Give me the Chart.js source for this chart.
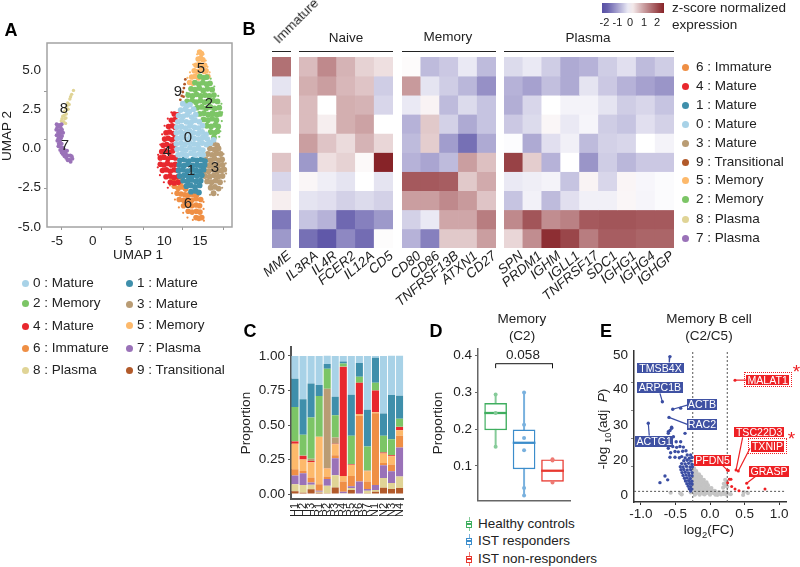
<!DOCTYPE html>
<html>
<head>
<meta charset="utf-8">
<title>B cell panels</title>
<script src="https://cdn.jsdelivr.net/npm/chart.js@4"></script>
<style>
  html, body { margin: 0; padding: 0; background: #fff; }
  #page { position: relative; width: 800px; height: 567px; overflow: hidden; font-family: "Liberation Sans", Arial, sans-serif; color: #222; }
  #page canvas { position: absolute; }
  .txt { position: absolute; white-space: nowrap; line-height: 1; }
  .dot { position: absolute; width: 7px; height: 7px; border-radius: 50%; }
  .tag { position: absolute; color: #fff; font-size: 10.6px; line-height: 1; display: flex; align-items: center; justify-content: center; white-space: nowrap; }
  sub { font-size: 70%; line-height: 0; }
</style>
</head>
<body>
<div id="page"></div>
<script>
// =======================
// data: panel A (UMAP)
// =======================
const clusterNames = ['0 : Mature', '1 : Mature', '2 : Memory', '3 : Mature', '4 : Mature', '5 : Memory', '6 : Immature', '7 : Plasma', '8 : Plasma', '9 : Transitional'];
const clusterColors = ['#a8d2e7', '#3f8fab', '#7cc566', '#b99c74', '#e8282e', '#fdb96b', '#ef8f45', '#9a72b8', '#e0d496', '#b25a2a'];

const umap0 = [[12.6,2.85],[13.15,2.7],[13.6,2.8],[12.3,2.45],[12.95,2.5],[13.5,2.35],[14.1,2.5],[12.0,2.1],[12.65,2.05],[13.2,2.15],[13.85,2.0],[14.4,2.15],[11.9,1.7],[12.45,1.8],[13.1,1.7],[13.75,1.65],[14.3,1.8],[14.9,1.7],[11.75,1.35],[12.4,1.4],[13.0,1.3],[13.6,1.45],[14.25,1.35],[14.8,1.3],[15.35,1.45],[11.7,1.0],[12.3,1.05],[12.9,0.95],[13.55,1.1],[14.1,1.0],[14.75,0.95],[15.3,1.05],[15.85,0.9],[11.8,0.65],[12.4,0.7],[13.05,0.6],[13.65,0.75],[14.2,0.65],[14.85,0.6],[15.4,0.7],[16.05,0.6],[11.7,0.3],[12.35,0.35],[12.9,0.25],[13.5,0.4],[14.15,0.3],[14.7,0.25],[15.3,0.35],[15.9,0.25],[16.45,0.35],[11.8,-0.05],[12.45,0],[13.0,-0.1],[13.6,0.05],[14.25,-0.05],[14.85,0],[15.4,-0.1],[11.95,-0.4],[12.5,-0.35],[13.1,-0.45],[13.75,-0.3],[14.3,-0.4],[14.9,-0.35],[15.45,-0.4],[16.9,0.55]];
const umap1 = [[12.2,-0.75],[12.8,-0.7],[13.45,-0.8],[14.05,-0.7],[14.6,-0.75],[15.2,-0.7],[15.7,-0.8],[12.1,-1.05],[12.75,-1.1],[13.3,-1.0],[13.95,-1.1],[14.55,-1.05],[15.1,-1.1],[15.65,-1.05],[12.0,-1.4],[12.6,-1.35],[13.25,-1.45],[13.85,-1.35],[14.45,-1.4],[15.0,-1.45],[15.5,-1.35],[12.15,-1.75],[12.8,-1.7],[13.4,-1.8],[14.0,-1.7],[14.6,-1.75],[15.25,-1.7],[12.65,-2.05],[13.25,-2.1],[13.85,-2.0],[14.45,-2.1],[15.1,-2.05],[13.1,-2.4],[13.7,-2.35],[14.3,-2.45],[14.95,-2.35],[13.75,-2.75],[14.4,-2.7],[14.85,-2.8]];
const umap2 = [[15.0,4.6],[15.5,4.5],[15.95,4.55],[14.3,4.2],[14.85,4.1],[15.4,4.2],[15.95,4.1],[16.4,4.15],[13.75,3.8],[14.3,3.75],[14.9,3.85],[15.45,3.7],[16.05,3.8],[16.7,3.75],[13.35,3.4],[13.95,3.35],[14.5,3.45],[15.1,3.35],[15.7,3.4],[16.3,3.35],[16.95,3.4],[13.2,3.0],[13.9,3.05],[14.45,2.95],[15.05,3.05],[15.65,2.95],[16.25,3.0],[16.85,3.05],[17.45,3.0],[14.6,2.6],[15.25,2.65],[15.85,2.55],[16.45,2.65],[17.05,2.55],[17.7,2.6],[14.95,2.2],[15.55,2.25],[16.15,2.15],[16.75,2.25],[17.35,2.15],[17.8,2.2],[15.5,1.85],[16.1,1.8],[16.7,1.9],[17.3,1.8],[15.95,1.45],[16.55,1.4],[17.15,1.5],[17.55,1.4],[16.5,1.05],[17.05,1.0],[17.45,1.1],[16.95,0.7]];
const umap3 = [[16.9,0.35],[17.4,0.2],[16.4,0.0],[17.0,-0.05],[17.6,0.0],[16.1,-0.35],[16.7,-0.4],[17.3,-0.3],[17.9,-0.35],[15.8,-0.7],[16.45,-0.75],[17.05,-0.65],[17.65,-0.75],[18.1,-0.7],[15.75,-1.05],[16.3,-1.1],[16.9,-1.0],[17.5,-1.1],[18.15,-1.05],[15.6,-1.4],[16.2,-1.45],[16.85,-1.35],[17.45,-1.45],[18.0,-1.4],[18.4,-1.35],[15.7,-1.75],[16.35,-1.8],[16.95,-1.7],[17.55,-1.8],[18.15,-1.75],[16.0,-2.1],[16.6,-2.15],[17.2,-2.05],[17.8,-2.15],[16.5,-2.5],[17.1,-2.45],[17.6,-2.55],[16.9,-2.85]];
const umap4 = [[11.4,2.2],[11.85,2.15],[11.0,1.8],[11.5,1.85],[10.6,1.4],[11.1,1.45],[11.5,1.35],[10.25,1.0],[10.75,1.05],[11.3,0.95],[10.05,0.6],[10.55,0.65],[11.05,0.55],[11.5,0.65],[9.85,0.2],[10.35,0.25],[10.9,0.15],[11.4,0.2],[9.65,-0.2],[10.15,-0.15],[10.7,-0.25],[11.2,-0.15],[9.45,-0.6],[9.95,-0.55],[10.5,-0.65],[11.05,-0.55],[11.55,-0.6],[9.45,-1.0],[9.95,-1.05],[10.45,-0.95],[11.0,-1.05],[11.55,-1.0],[9.75,-1.4],[10.3,-1.35],[10.85,-1.45],[11.4,-1.35],[11.85,-1.4],[10.25,-1.8],[10.8,-1.75],[11.35,-1.85],[11.9,-1.8],[10.85,-2.15],[11.4,-2.2],[11.95,-2.15]];
const umap5 = [[14.95,6.15],[15.2,6.05],[14.75,5.7],[15.1,5.75],[15.4,5.65],[14.45,5.3],[14.9,5.35],[15.3,5.25],[15.65,5.3],[14.2,4.95],[14.65,4.9],[15.15,5.0],[15.6,4.9],[15.85,4.95],[13.85,4.55],[14.35,4.6],[14.8,4.5],[16.1,4.6],[13.55,4.2],[14.0,4.15]];
const umap6 = [[11.1,-2.0],[11.6,-2.05],[12.2,-2.25],[12.5,-2.0],[11.4,-2.4],[11.95,-2.55],[12.55,-2.45],[13.0,-2.6],[11.8,-2.85],[12.35,-2.9],[12.9,-2.95],[13.45,-2.95],[14.05,-2.95],[14.55,-2.95],[12.1,-3.25],[12.7,-3.3],[13.25,-3.25],[13.85,-3.3],[14.45,-3.2],[15.1,-3.25],[12.7,-3.65],[13.3,-3.6],[13.85,-3.65],[14.45,-3.6],[14.95,-3.65],[13.35,-4.0],[13.9,-4.05],[14.5,-4.0],[15.0,-4.05],[14.45,-4.4],[14.85,-4.45],[15.25,-4.4]];
const umap7 = [[-5.05,1.55],[-4.7,1.5],[-4.35,1.55],[-5.1,1.2],[-4.7,1.15],[-4.3,1.2],[-5.05,0.85],[-4.65,0.85],[-4.3,0.8],[-4.95,0.5],[-4.6,0.45],[-4.8,0.15],[-4.45,0.1],[-4.55,-0.1],[-4.15,-0.15],[-4.2,-0.35],[-3.8,-0.3],[-3.5,-0.45],[-3.15,-0.45],[-3.7,-0.6],[-3.3,-0.7],[-2.95,-0.5],[-4.95,1.35],[-4.5,1.35],[-4.85,1.0],[-4.5,1.0],[-4.15,1.0],[-4.8,0.65],[-4.45,0.65],[-4.75,0.3],[-4.35,0.3],[-4.2,0.05],[-4.35,-0.25],[-3.95,-0.1],[-3.6,-0.15],[-3.95,-0.5],[-3.5,-0.75],[-3.1,-0.85],[-2.85,-0.65]];
const umap8 = [[-2.7,3.7],[-2.95,3.45],[-3.2,3.15],[-3.5,2.9],[-3.3,2.8],[-3.75,2.55],[-3.95,2.35],[-3.7,2.2],[-4.2,2.05],[-3.9,1.9],[-4.4,1.75],[-4.05,1.7],[-4.6,1.45],[-3.1,3.3],[-3.6,2.7],[-3.45,2.5],[-4.0,2.1],[-3.75,1.95],[-4.3,1.9],[-3.8,1.6]];
const umap9 = [[12.95,4.4],[12.85,4.1],[12.75,3.85],[12.6,3.6],[12.45,3.35],[12.25,3.1],[12.7,3.3]];
const umapSets = [umap0, umap1, umap2, umap3, umap4, umap5, umap6, umap7, umap8, umap9];
const umapNumbers = ['0', '1', '2', '3', '4', '5', '6', '7', '8', '9'];
// loose cells round the outer edge of the big group, drawn smaller
const stray2 = [[13.15,3.55],[14.1,4.55],[14.65,4.45],[16.5,4.45],[17.0,3.95],[17.55,3.35],[18.0,2.85],[18.1,2.3],[18.05,1.75],[17.85,1.1],[17.7,0.75]];
const stray3 = [[18.6,-0.95],[18.65,-1.6],[18.45,-2.1],[18.1,-2.5],[17.5,-2.95],[16.4,-2.95],[18.3,-0.35]];
const stray4 = [[9.15,-0.4],[9.1,-1.2],[9.45,0.25],[9.7,0.9],[10.05,1.45],[10.5,1.9],[11.0,2.3],[9.4,-1.7],[9.95,-2.15],[10.5,-2.5]];
const stray5 = [[14.6,6.0],[15.5,6.0],[15.8,5.6],[16.05,5.2],[16.35,4.85],[14.05,5.35],[13.6,4.85],[13.25,4.5]];
const stray6 = [[10.8,-2.35],[11.1,-2.85],[11.5,-3.25],[12.05,-3.75],[12.65,-4.1],[13.25,-4.4],[14.0,-4.55],[15.55,-4.6],[15.5,-3.85],[15.5,-3.4]];
const straySets = [[], [], stray2, stray3, stray4, stray5, stray6, [], [], []];

// =======================
// data: panel B (z scores per gene, rows top to bottom)
// =======================
const immatureGenes = ['MME'];
const naiveGenes = ['IL3RA', 'IL4R', 'FCER2', 'IL12A', 'CD5'];
const memoryGenes = ['CD80', 'CD86', 'TNFRSF13B', 'ATXN1', 'CD27'];
const plasmaGenes = ['SPN', 'PRDM1', 'IGHM', 'IGLL1', 'TNFRSF17', 'SDC1', 'IGHG1', 'IGHG4', 'IGHGP'];

const immatureZ = [[1.6, -0.25, 0.7, 0.6, 0, 0.6, -0.4, 0.15, -1.5, -1.1]];
const naiveZ = [
  [0.7, 0.85, 0.7, 0.7, 1.05, -1.1, 0.07, -0.25, -0.6, -1.6],
  [1.3, 1.05, 0, 0.15, 0.6, 0.3, -0.15, -0.3, -0.8, -1.9],
  [0.8, 0.75, 0.85, 0.85, 0.35, 0.45, -0.25, -0.45, -1.7, -1.3],
  [0.45, 0.6, 0.8, 1.0, 0.8, 0.05, 0, -0.35, -1.4, -1.65],
  [0.3, -0.5, -0.4, 0, 0.4, 2.6, -0.25, -0.45, -1.1, 0.02]
];
const memoryZ = [
  [0.03, 1.1, -0.2, -0.8, -0.7, -0.8, 1.9, 1.05, -0.45, -0.8],
  [-0.7, -0.25, 0.1, 0.55, 0.5, -0.95, 1.9, 1.05, -0.2, -1.4],
  [-0.55, -0.5, -0.7, -0.45, -1.05, -0.7, 1.85, 1.3, 0.95, 0.55],
  [-0.2, -0.75, -0.35, -0.9, -1.6, 1.05, 0.55, 1.1, 0.95, 0.55],
  [-0.7, -1.2, -0.6, -0.6, -0.9, 0.65, 0.9, 0.6, 1.45, 1.05]
];
const plasmaZ = [
  [-0.35, -0.8, -0.85, -0.55, -0.02, 2.2, -0.2, -0.6, 1.3, 0.4],
  [-0.2, -1.0, -0.4, -0.35, -0.9, 0.5, -0.15, -0.12, 1.95, 1.25],
  [-0.5, -0.65, 0, 0.07, -0.3, -0.8, -0.1, -0.7, 1.25, 2.45],
  [-0.9, -0.9, -0.1, -0.2, -0.13, 0, -0.6, -0.3, 1.4, 2.15],
  [-0.8, -0.25, -0.1, -0.08, -0.7, -1.15, 0.1, -0.13, 1.9, 1.45],
  [-0.5, -0.55, -0.25, -0.5, -0.45, -0.5, -0.4, -0.13, 1.95, 1.85],
  [-0.3, -0.8, -0.5, -0.6, -0.4, -0.75, 0.08, 0.07, 1.95, 1.85],
  [-0.7, -1.0, -0.4, -0.3, 0, -0.55, -0.07, -0.08, 1.9, 1.75],
  [-0.5, -1.15, -0.6, -0.45, -0.1, -0.55, -0.03, -0.03, 1.9, 1.75]
];
const heatLegendOrder = [6, 4, 1, 0, 3, 9, 5, 2, 8, 7];
const colorbarTicks = [-2, -1, 0, 1, 2];

// =======================
// data: panel C (proportion of each cluster per sample)
// =======================
const samples = ['H1', 'H2', 'H3', 'R1', 'R2', 'R3', 'R4', 'R5', 'R6', 'R7', 'N1', 'N2', 'N3', 'N4'];
const prop9 = [.02, .01, .035, .01, .005, .048, 0, .03, 0, .005, .017, .045, .036, .043];
const prop8 = [.05, .055, .032, .007, .055, .088, .005, .013, 0, .019, .012, .072, .043, .084];
const prop7 = [.065, .085, .016, .007, .048, .124, .012, .014, .09, .012, .036, .091, .086, .21];
const prop6 = [.045, .017, .037, .046, .019, .02, .073, .073, .477, .054, .521, .017, .048, .086];
const prop5 = [.185, .083, .11, .345, .058, .08, .04, .08, .013, .075, .007, .069, .06, .039];
const prop4 = [.015, .025, .01, 0, .002, .004, .79, .003, .226, .002, .157, .006, .007, .024];
const prop3 = [.005, .005, .015, 0, .575, .046, .003, .004, 0, .003, 0, 0, .002, .002];
const prop2 = [.245, .15, .30, .295, .145, .16, .022, .206, .044, .175, .056, .123, .115, .057];
const prop1 = [.205, .257, .245, .08, .035, .135, .015, .297, .1, .265, .182, .161, .32, .167];
const prop0 = [.165, .313, .20, .21, .06, .295, .04, .28, .05, .39, .012, .416, .285, .29];
const propSets = [prop9, prop8, prop7, prop6, prop5, prop4, prop3, prop2, prop1, prop0];
const propColorOrder = [9, 8, 7, 6, 5, 4, 3, 2, 1, 0];

// =======================
// data: panel D (box plot)
// =======================
const boxGroups = ['Healthy controls', 'IST responders', 'IST non-responders'];
const boxColors = ['#3fae5f', '#3c8dcb', '#e8382f'];
const boxSoft = ['#86cb99', '#79b1de', '#ee7a73'];
const boxQ1 = [.198, .092, .058];
const boxQ3 = [.27, .198, .117];
const boxMedian = [.244, .163, .087];
const whiskerLow = [.152, .02, .055];
const whiskerHigh = [.294, .303, .12];
const boxPoints = [[.294, .244, .152], [.3, .212, .176, .143, .04, .02], [.118, .115, .055]];
const bracket = [{x: 1, y: .366}, {x: 1, y: .378}, {x: 3, y: .378}, {x: 3, y: .366}];

// =======================
// data: panel E (volcano)
// =======================
const volcanoBlue = [[-.58,49.4],[-.69,33.3],[-.54,30.6],[-.594,27.7],[-.894,25.6],[-.425,31],[-.555,23.8],[-.604,22.6],[-.362,22],[-.58,23],[-.604,22],[-.556,24.2],[-.652,6.8],[-.613,5.4],[-.725,4.4],[-.54,17.3],[-.483,17],[-.435,17.3],[-.386,17.1],[-.604,16.7],[-.57,15.1],[-.507,15.5],[-.459,15.4],[-.396,15.6],[-.348,15.8],[-.58,13.5],[-.507,13.5],[-.444,13.3],[-.41,13.7],[-.33,14.3],[-.28,14.3],[-.53,20.8],[-.49,19],[-.425,19],
  [-.36,13.2],[-.3,13.1],[-.26,13.4],[-.38,12.2],[-.33,12.4],[-.28,12.1],[-.41,11.2],[-.36,11.1],[-.31,11.3],[-.26,11],[-.43,10.1],[-.39,10],[-.34,10.2],[-.29,10],[-.255,10.1],[-.42,9],[-.38,9.1],[-.33,8.9],[-.28,9],[-.405,8],[-.36,8.1],[-.31,7.9],[-.26,8],[-.39,7],[-.345,7.1],[-.3,7],[-.26,6.9],[-.37,6],[-.33,6.1],[-.285,5.9],[-.355,5],[-.31,5.1],[-.265,4.9],[-.335,4],[-.295,4.1],[-.26,3.9],[-.315,3.1],[-.28,3],[-.3,2.2],[-.265,2.1],[-.28,1.4]];
const volcanoGray = [[-.23,9.5],[-.24,8.5],[-.2,8.5],[-.235,7.5],[-.19,7.5],[-.16,7.4],[-.24,6.5],[-.2,6.6],[-.16,6.4],[-.13,6.5],[-.235,5.5],[-.19,5.6],[-.15,5.4],[-.12,5.5],[-.09,5.4],[-.24,4.5],[-.2,4.6],[-.16,4.4],[-.12,4.5],[-.08,4.4],[-.05,4.5],[-.23,3.5],[-.19,3.6],[-.15,3.4],[-.11,3.5],[-.07,3.4],[-.03,3.5],[-.24,2.5],[-.2,2.6],[-.16,2.4],[-.12,2.5],[-.08,2.4],[-.04,2.5],[-.01,2.4],[.02,2.5],[-.23,1.6],[-.18,1.7],[-.13,1.5],[-.09,1.6],[-.05,1.5],[-.01,1.7],[.03,1.6],[.07,1.5],
  [-.57,.8],[-.43,.6],[-.41,.2],[-.28,.9],[-.2,.6],[-.15,.8],[-.1,.5],[-.05,.7],[0,.5],[.05,.7],[.1,.5],[.15,.6],[.2,.4],[.25,.6],[.3,.3],[-.15,.1],[-.08,.2],[0,.1],[.08,.1],[.16,.2],[.22,5.4],[.24,4.4],[.2,4],[.23,3.3],[.25,3],[.19,2.6],[.48,0],[.55,.7],[.49,1],[-.22,.1],[-.02,1.1],[.06,1.05],[.13,1],[.2,1],[.11,.05],[.24,.1],[-.18,1.1],[-.12,1.05],[-.06,1.1]];
const volcanoRed = [[.362,41],[.377,8.9],[.41,8.6],[.251,8.9],[.531,4.2],[.266,8.7],[.304,5.6],[.314,3],[.362,2.1],[.42,1.5],[.556,2.6],[.797,2.1],[.256,4.4],[.28,5.6]];
// connector lines from a point to its label, both ends in data units
const blueLinks = [[[-.58,49.4],[-.59,47.3]], [[-.69,33.3],[-.725,36.3]], [[-.54,30.6],[-.329,32.1]], [[-.594,27.7],[-.329,25.2]], [[-.894,25.6],[-.88,21.2]]];
const redLinks = [[[.362,41],[.522,41]], [[.377,8.9],[.473,20.6]], [[.41,8.6],[.58,16.7]], [[.251,8.9],[.184,10.5]], [[.531,4.2],[.667,6.8]]];
const blueTags = ['TMSB4X', 'ARPC1B', 'ACTB', 'RAC2', 'ACTG1'];
const redTags = ['MALAT1', 'TSC22D3', 'TXNIP', 'PFDN5', 'GRASP'];

// =======================
// helpers
// =======================
Chart.defaults.font.family = '"Liberation Sans", Arial, sans-serif';
Chart.defaults.font.size = 13.5;
Chart.defaults.color = '#222';
Chart.defaults.animation = false;
Chart.defaults.plugins.legend.display = false;
Chart.defaults.plugins.tooltip.enabled = false;

const page = document.getElementById('page');

// fixes the plot area at l,t,r,b on the page; ml/mr/mt/mb are the margins round it
function makeChart(box, config) {
  const c = document.createElement('canvas');
  const ml = box.ml || 0, mr = box.mr || 0, mt = box.mt || 0, mb = box.mb || 0;
  c.width = box.r - box.l + ml + mr;
  c.height = box.b - box.t + mt + mb;
  c.style.left = (box.l - ml) + 'px';
  c.style.top = (box.t - mt) + 'px';
  page.appendChild(c);
  const o = config.options;
  o.responsive = false;
  o.devicePixelRatio = 1;
  o.layout = {padding: {top: mt, right: mr, left: box.padLeft ? ml : 0, bottom: 0}};
  Object.values(o.scales).forEach(s => {
    if (s.display === false) return;
    s.afterFit = sc => {
      if (sc.isHorizontal()) sc.height = mb; else sc.width = ml;
    };
  });
  return new Chart(c, config);
}

function text(html, x, y, opt) {
  opt = opt || {};
  const d = document.createElement('div');
  d.className = 'txt';
  d.innerHTML = html;
  d.style.left = x + 'px';
  d.style.top = y + 'px';
  d.style.fontSize = (opt.size || 13.5) + 'px';
  if (opt.weight) d.style.fontWeight = opt.weight;
  if (opt.color) d.style.color = opt.color;
  const shift = opt.left ? 'translate(0,-50%)' : 'translate(-50%,-50%)';
  d.style.transform = shift + (opt.rotate ? ' rotate(' + opt.rotate + 'deg)' : '');
  page.appendChild(d);
}

function dot(color, x, y) {
  const d = document.createElement('div');
  d.className = 'dot';
  d.style.background = color;
  d.style.left = (x - 3.5) + 'px';
  d.style.top = (y - 3.5) + 'px';
  page.appendChild(d);
}

function rect(x, y, w, h, css) {
  const d = document.createElement('div');
  d.style.position = 'absolute';
  d.style.left = x + 'px';
  d.style.top = y + 'px';
  d.style.width = w + 'px';
  d.style.height = h + 'px';
  d.style.boxSizing = 'border-box';
  Object.assign(d.style, css);
  page.appendChild(d);
  return d;
}

// axis whose labels stand where the picture has them, marks elsewhere stay unlabelled
function placedAxis(places, labels, marks, markColor) {
  const all = places.concat(marks);
  return {
    afterBuildTicks: sc => { sc.ticks = all.map(v => ({value: v})); },
    ticks: {
      autoSkip: false,
      maxRotation: 0,
      callback: v => {
        const i = places.indexOf(v);
        return i < 0 ? '' : labels[i];
      }
    },
    grid: {
      drawOnChartArea: false,
      tickLength: 3,
      tickColor: ctx => (ctx.tick && places.indexOf(ctx.tick.value) < 0) ? markColor : 'rgba(0,0,0,0)'
    }
  };
}

function pts(list) {
  return list.map(p => ({x: p[0], y: p[1]}));
}

// =======================
// A: UMAP
// =======================
const framePlugin = {
  id: 'frame',
  afterDatasetsDraw(chart) {
    const a = chart.chartArea, g = chart.ctx;
    g.save();
    g.strokeStyle = '#a3a3a3';
    g.lineWidth = 1.5;
    g.strokeRect(a.left, a.top, a.width, a.height);
    g.restore();
  }
};

const umapRadius = [2.9, 2.9, 2.9, 2.9, 2.8, 2.8, 2.8, 2.0, 1.7, 1.4];
const umapDatasets = umapSets.map((set, i) => ({
  data: pts(set),
  backgroundColor: clusterColors[i],
  borderWidth: 0,
  pointRadius: umapRadius[i]
}));
straySets.forEach((set, i) => {
  umapDatasets.push({data: pts(set), backgroundColor: clusterColors[i], borderWidth: 0, pointRadius: 1.1});
});

makeChart({l: 47, t: 43, r: 232, b: 227, ml: 47, mb: 22, mt: 14, mr: 6}, {
  type: 'scatter',
  data: {datasets: umapDatasets},
  options: {
    scales: {
      x: Object.assign({type: 'linear', min: -6.4, max: 19.48, border: {display: false}},
        placedAxis([-5, 0, 5, 10, 15], ['-5', '0', '5', '10', '15'], [-4.44, 1.29, 7.03, 12.62, 18.36], '#999')),
      y: Object.assign({type: 'linear', min: -5, max: 6.72, border: {display: false}},
        placedAxis([-5, -2.5, 0, 2.5, 5], ['-5.0', '-2.5', '0.0', '2.5', '5.0'], [-2.52, 0.6, 3.66], '#999'))
    }
  },
  plugins: [framePlugin]
});

text('UMAP 1', 138, 255);
text('UMAP 2', 7, 136, {rotate: -90});

const umapLabelPos = [[188, 136], [191, 169], [209, 102], [215, 166], [167, 150], [201, 67], [188, 202], [65, 144], [64, 107], [178, 90]];
umapLabelPos.forEach((p, i) => text(umapNumbers[i], p[0], p[1], {size: 15}));

const legendColA = [[25.7, 33], [129.5, 137]];
const legendRowsA = [[283, 303, 326, 348, 370], [283, 304, 325, 348, 370]];
clusterNames.forEach((name, i) => {
  const col = i % 2, row = Math.floor(i / 2);
  dot(clusterColors[i], legendColA[col][0], legendRowsA[col][row]);
  text(name, legendColA[col][1], legendRowsA[col][row], {left: true});
});

// =======================
// B: heatmap, one stacked bar per gene
// =======================
function zColor(z) {
  const neg = [88, 80, 165], pos = [135, 35, 40];
  const t = Math.min(Math.abs(z) / (z < 0 ? 2.0 : 2.6), 1);
  const end = z < 0 ? neg : pos;
  const ch = end.map(e => Math.round(255 + (e - 255) * Math.pow(t, 0.9)));
  return 'rgb(' + ch.join(',') + ')';
}

function heatBlock(genes, matrix, l, r) {
  const rows = matrix[0].map((_, row) => ({
    data: genes.map(() => 1),
    backgroundColor: matrix.map(col => zColor(col[row])),
    borderWidth: 0,
    barPercentage: 1,
    categoryPercentage: 1
  }));
  makeChart({l: l, t: 57, r: r, b: 248, ml: 70, mr: 20, mt: 0, mb: 60, padLeft: true}, {
    type: 'bar',
    data: {labels: genes, datasets: rows},
    options: {
      scales: {
        x: {
          stacked: true,
          border: {display: false},
          grid: {display: false, drawTicks: false},
          ticks: {
            autoSkip: false,
            minRotation: 40,
            maxRotation: 40,
            labelOffset: 8,
            padding: 0,
            font: {style: 'italic', size: 13.5},
            color: '#222'
          }
        },
        y: {stacked: true, display: false, reverse: true, min: 0, max: 10}
      }
    }
  });
}

heatBlock(immatureGenes, immatureZ, 272, 291);
heatBlock(naiveGenes, naiveZ, 299, 393);
heatBlock(memoryGenes, memoryZ, 402, 496);
heatBlock(plasmaGenes, plasmaZ, 504, 674);

[[272, 291], [299, 393], [402, 496], [504, 674]].forEach(s => {
  rect(s[0], 50.5, s[1] - s[0], 1.3, {background: '#222'});
});
text('Naive', 346, 38);
text('Memory', 448, 37);
text('Plasma', 588, 38);
text('Immature', 296, 21, {rotate: -45});

const stops = [];
for (let z = -2.2; z <= 2.6; z += 0.4) stops.push(zColor(z));
rect(602, 3, 62, 10, {background: 'linear-gradient(to right,' + stops.join(',') + ')'});
const colorbarX = [604.5, 617.5, 630, 644, 657];
colorbarTicks.forEach((v, i) => text(String(v), colorbarX[i], 22, {size: 11}));
text('z-score normalized', 672, 8, {left: true});
text('expression', 672, 25, {left: true});

const heatLegendRows = [67, 86, 105, 124, 143, 162, 180, 199, 219, 238];
heatLegendOrder.forEach((k, i) => {
  dot(clusterColors[k], 685, heatLegendRows[i]);
  text(clusterNames[k], 696, heatLegendRows[i], {left: true});
});

// =======================
// C: stacked proportions
// =======================
makeChart({l: 290.5, t: 347, r: 408, b: 499, ml: 46, mb: 24, mt: 14, mr: 6}, {
  type: 'bar',
  data: {
    labels: samples,
    datasets: propSets.map((set, i) => ({
      data: set,
      backgroundColor: clusterColors[propColorOrder[i]],
      borderWidth: 0,
      barPercentage: 0.88,
      categoryPercentage: 1
    }))
  },
  options: {
    scales: {
      x: {
        stacked: true,
        border: {color: '#555', width: 2},
        grid: {display: false, drawTicks: true, tickLength: 3, tickColor: '#555'},
        ticks: {autoSkip: false, minRotation: 90, maxRotation: 90, padding: 1, font: {size: 11}}
      },
      y: {
        stacked: true,
        min: -0.036,
        max: 1.065,
        border: {color: '#555', width: 2},
        afterBuildTicks: sc => { sc.ticks = [0, .25, .5, .75, 1].map(v => ({value: v})); },
        grid: {drawOnChartArea: false, tickLength: 3, tickColor: '#555'},
        ticks: {callback: v => v.toFixed(2), padding: 3}
      }
    }
  }
});
text('Proportion', 246, 423, {rotate: -90});

// =======================
// D: box plot
// =======================
const boxX = [1, 2, 3];
const dDatasets = [];
boxPoints.forEach((list, i) => {
  dDatasets.push({
    type: 'scatter',
    data: list.map(v => ({x: boxX[i], y: v})),
    backgroundColor: boxSoft[i],
    borderWidth: 0,
    pointRadius: 2
  });
});
dDatasets.push({
  type: 'line',
  data: bracket,
  borderColor: '#111',
  borderWidth: 1,
  pointRadius: 0,
  tension: 0
});
dDatasets.push({
  type: 'bar',
  data: boxX.map((x, i) => ({x: x, y: [boxMedian[i] - .0022, boxMedian[i] + .0022]})),
  backgroundColor: boxColors,
  borderWidth: 0,
  barThickness: 22,
  grouped: false,
  borderSkipped: false
});
dDatasets.push({
  type: 'bar',
  data: boxX.map((x, i) => ({x: x, y: [boxQ1[i], boxQ3[i]]})),
  backgroundColor: '#fff',
  borderColor: boxColors,
  borderWidth: 1.4,
  barThickness: 22,
  grouped: false,
  borderSkipped: false
});
boxX.forEach((x, i) => {
  dDatasets.push({
    type: 'line',
    data: [{x: x, y: whiskerLow[i]}, {x: x, y: whiskerHigh[i]}],
    borderColor: boxSoft[i],
    borderWidth: 2,
    pointRadius: 0
  });
});

makeChart({l: 478, t: 349, r: 570, b: 506, ml: 34, mb: 6, mt: 14, mr: 6}, {
  type: 'bar',
  data: {datasets: dDatasets},
  options: {
    scales: {
      x: {
        type: 'linear',
        offset: false,
        min: 0.38,
        max: 3.615,
        border: {color: '#666', width: 1.5},
        grid: {display: false},
        ticks: {display: false}
      },
      y: {
        type: 'linear',
        min: 0.005,
        max: 0.418,
        border: {color: '#666', width: 1.5},
        afterBuildTicks: sc => { sc.ticks = [.1, .2, .3, .4].map(v => ({value: v})); },
        grid: {drawOnChartArea: false, tickLength: 3, tickColor: '#666'},
        ticks: {callback: v => v.toFixed(1), padding: 3}
      }
    }
  }
});
text('Memory', 522, 319);
text('(C2)', 522, 336);
text('0.058', 523, 355);
text('Proportion', 438, 423, {rotate: -90});

const boxLegendRows = [524, 541, 559];
boxGroups.forEach((g, i) => {
  const y = boxLegendRows[i];
  rect(468.6, y - 7, 1.2, 14, {background: boxSoft[i]});
  rect(466, y - 3.5, 6.4, 7, {background: '#fff', border: '1.2px solid ' + boxColors[i]});
  rect(466, y - 0.6, 6.4, 1.2, {background: boxColors[i]});
  text(g, 478, y, {left: true});
});

// =======================
// E: volcano
// =======================
const eDatasets = [];
redLinks.concat(blueLinks).forEach((link, i) => {
  eDatasets.push({
    type: 'line',
    data: pts(link),
    borderColor: i < redLinks.length ? '#ee2024' : '#3b4ea3',
    borderWidth: 1.2,
    pointRadius: 0
  });
});
eDatasets.push({type: 'scatter', data: pts(volcanoRed), backgroundColor: '#ee2024', borderWidth: 0, pointRadius: 1.5});
eDatasets.push({type: 'scatter', data: pts(volcanoBlue), backgroundColor: '#3b4ea3', borderWidth: 0, pointRadius: 1.7});
[[-.25, -2.5, -.25, 51.4], [.25, -2.5, .25, 51.4], [-1.1, 1.3, 1.1, 1.3]].forEach(d => {
  eDatasets.push({
    type: 'line',
    data: [{x: d[0], y: d[1]}, {x: d[2], y: d[3]}],
    borderColor: '#555',
    borderWidth: 1,
    borderDash: [2, 2],
    pointRadius: 0
  });
});
eDatasets.push({type: 'scatter', data: pts(volcanoGray), backgroundColor: '#c4c4c4', borderWidth: 0, pointRadius: 2.1});

makeChart({l: 634, t: 351, r: 786, b: 502, ml: 30, mb: 22, mt: 14, mr: 10}, {
  type: 'scatter',
  data: {datasets: eDatasets},
  options: {
    scales: {
      x: {
        type: 'linear',
        min: -1.101,
        max: 1.101,
        border: {color: '#333', width: 1.5},
        afterBuildTicks: sc => { sc.ticks = [-1, -.5, 0, .5, 1].map(v => ({value: v})); },
        grid: {drawOnChartArea: false, tickLength: 3, tickColor: '#333'},
        ticks: {callback: v => v.toFixed(1), padding: 1, maxRotation: 0}
      },
      y: Object.assign({type: 'linear', min: -2.5, max: 51.4, border: {color: '#333', width: 1.5}},
        placedAxis([0, 12.5, 25, 37.7, 50], ['0', '20', '30', '40', '50'], [10, 20, 30, 40], '#888'))
    }
  }
});

text('Memory B cell', 709, 319);
text('(C2/C5)', 709, 336);
text('log<sub>2</sub>(FC)', 709, 530);
text('-log <sub>10</sub>(adj &nbsp;<i>P</i>)', 603, 429, {rotate: -90});

function tag(label, x, y, w, h, color) {
  const d = rect(x, y, w, h, {background: color});
  d.className = 'tag';
  d.textContent = label;
}
const blueTagBoxes = [[636.7, 362.7, 47.7, 10.7], [636.7, 382, 46.6, 11], [686.7, 399.3, 30.6, 10.7], [686.7, 419, 30.6, 11], [635, 435.7, 38.3, 11]];
const redTagBoxes = [[746, 375, 43.3, 10], [734.3, 426.7, 49.7, 10.6], [750.7, 441, 33.6, 10.7], [694.3, 455, 36.7, 10.7], [749, 465.7, 40, 11]];
blueTags.forEach((t, i) => tag(t, ...blueTagBoxes[i], '#3f51a3'));
redTags.forEach((t, i) => tag(t, ...redTagBoxes[i], '#ee2024'));
rect(744, 371.7, 47.7, 15.6, {border: '1px dotted #ee2024'});
rect(748.3, 438.3, 38.4, 15.7, {border: '1px dotted #ee2024'});
text('*', 796.5, 371, {size: 19, color: '#ee2024'});
text('*', 791.5, 438, {size: 19, color: '#ee2024'});

// =======================
// panel letters
// =======================
[['A', 11, 30], ['B', 249, 29], ['C', 250, 331], ['D', 436, 331], ['E', 606, 331]].forEach(p => {
  text(p[0], p[1], p[2], {size: 18, weight: 'bold', color: '#000'});
});
</script>
</body>
</html>
